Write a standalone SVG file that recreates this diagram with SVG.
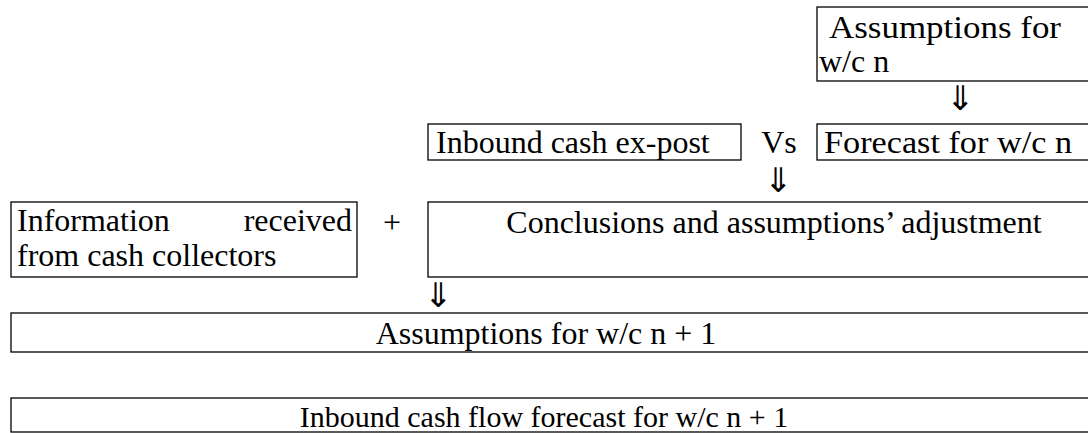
<svg xmlns="http://www.w3.org/2000/svg" width="1088" height="433" viewBox="0 0 1088 433">
<style>
rect.box{fill:#fff;stroke:#000;stroke-width:1.3}
text{font-family:"Liberation Serif","Times New Roman",serif;font-size:32px;fill:#000}
.mid{text-anchor:middle}
.arr{font-size:34px}
</style>
<rect width="1088" height="433" fill="#fff"/>
<g id="n-assump-n">
<rect class="box" x="817" y="7" width="290" height="74"/>
<text x="829" y="38" textLength="232" lengthAdjust="spacingAndGlyphs">Assumptions for</text>
<text x="819" y="72">w/c n</text>
</g>
<g id="n-inbound-expost">
<rect class="box" x="428" y="124" width="313" height="36"/>
<text x="436" y="153">Inbound cash ex-post</text>
</g>
<g id="n-forecast-n">
<rect class="box" x="817" y="124" width="290" height="36"/>
<text x="824" y="153" textLength="248" lengthAdjust="spacingAndGlyphs">Forecast for w/c n</text>
</g>
<g id="n-info">
<rect class="box" x="11" y="202" width="346" height="75"/>
<text x="17" y="231">Information</text>
<text x="352" y="231" text-anchor="end">received</text>
<text x="17" y="266">from cash collectors</text>
</g>
<g id="n-conclusions">
<rect class="box" x="428" y="202" width="680" height="75"/>
<text class="mid" x="774" y="233">Conclusions and assumptions’ adjustment</text>
</g>
<g id="n-assump-n1">
<rect class="box" x="11" y="313" width="1100" height="39"/>
<text class="mid" x="546" y="344">Assumptions for w/c n + 1</text>
</g>
<g id="n-forecast-n1">
<rect class="box" x="11" y="398" width="1100" height="34"/>
<text class="mid" x="544" y="427" style="font-size:30px">Inbound cash flow forecast for w/c n + 1</text>
</g>
<g id="connectors">
<text class="mid arr" x="960" y="110">⇓</text>
<text class="mid" x="779" y="153">Vs</text>
<text class="mid arr" x="778" y="192">⇓</text>
<text class="mid" x="392" y="233">+</text>
<text class="mid arr" x="438" y="307">⇓</text>
</g>
</svg>
